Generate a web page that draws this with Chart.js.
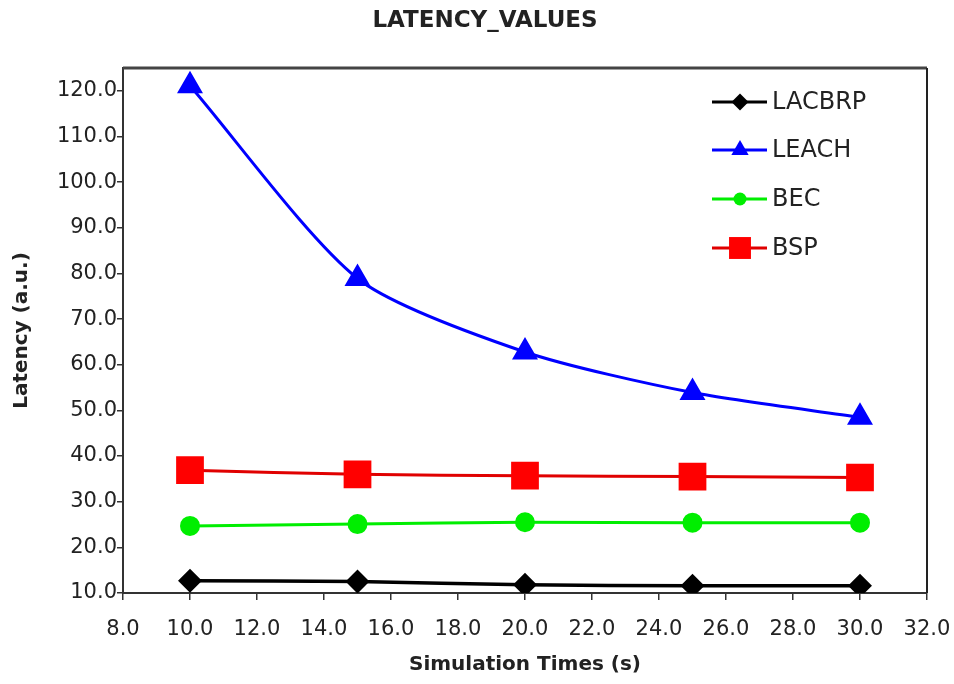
<!DOCTYPE html>
<html>
<head>
<meta charset="utf-8">
<script src="https://cdn.jsdelivr.net/npm/chart.js@4"></script>
<style>
   body { margin: 0; background: #fff; }
   #wrap { width: 954px; height: 684px; }
</style>
</head>
<body>
<div id="wrap"><canvas id="latency-chart"></canvas></div>
<script>
const simTimes = [10, 15, 20, 25, 30];
const seriesNames = ['LACBRP', 'LEACH', 'BEC', 'BSP'];
const lacbrp = [12.7, 12.5, 11.8, 11.6, 11.6];
const leach = [121.1, 78.9, 62.8, 53.9, 48.5];
const bec = [24.7, 25.1, 25.5, 25.4, 25.4];
const bsp = [36.9, 36.0, 35.7, 35.5, 35.3];
const yTicks = [10, 20, 30, 40, 50, 60, 70, 80, 90, 100, 110, 120];
const xTicks = [8, 10, 12, 14, 16, 18, 20, 22, 24, 26, 28, 30, 32];
const chartTitle = 'LATENCY_VALUES';

const FONT = 'DejaVu Sans';
const TEXT = '#222';

function toPoints(values) {
   return values.map((v, i) => ({ x: simTimes[i], y: v }));
}

// simple marker drawing for the legend
function drawMarker(ctx, style, x, y, r) {
   ctx.beginPath();
   if (style === 'circle') {
      ctx.arc(x, y, r, 0, Math.PI * 2);
   } else if (style === 'rect') {
      const s = r * Math.SQRT1_2;
      ctx.rect(x - s, y - s, 2 * s, 2 * s);
   } else if (style === 'rectRot') {
      ctx.moveTo(x, y - r);
      ctx.lineTo(x + r, y);
      ctx.lineTo(x, y + r);
      ctx.lineTo(x - r, y);
      ctx.closePath();
   } else if (style === 'triangle') {
      ctx.moveTo(x, y - r);
      ctx.lineTo(x + r * Math.sqrt(3) / 2, y + r / 2);
      ctx.lineTo(x - r * Math.sqrt(3) / 2, y + r / 2);
      ctx.closePath();
   }
   ctx.fill();
}

const frameAndLegend = {
   id: 'frameAndLegend',
   afterDraw(chart) {
      const { ctx, chartArea: a } = chart;
      ctx.save();
      // title
      ctx.fillStyle = TEXT;
      ctx.font = 'bold 23px "' + FONT + '"';
      ctx.textAlign = 'center';
      ctx.textBaseline = 'middle';
      ctx.fillText(chartTitle, 485, 21);

      // top and right frame
      ctx.strokeStyle = '#444';
      ctx.lineWidth = 3;
      ctx.beginPath();
      ctx.moveTo(a.left, a.top);
      ctx.lineTo(a.right, a.top);
      ctx.stroke();
      ctx.lineWidth = 2;
      ctx.strokeStyle = '#222';
      ctx.beginPath();
      ctx.moveTo(a.right, a.top);
      ctx.lineTo(a.right, a.bottom);
      ctx.stroke();

      // legend inside plot
      const legendR = [8.5, 10, 6.5, 15.5];
      const x0 = 712, x1 = 767, xm = 740, tx = 772;
      const rows = [102, 150, 199, 248];
      ctx.font = '24px "' + FONT + '"';
      ctx.textAlign = 'left';
      chart.data.datasets.forEach((ds, i) => {
         const y = rows[i];
         ctx.strokeStyle = ds.borderColor;
         ctx.lineWidth = 3;
         ctx.beginPath();
         ctx.moveTo(x0, y);
         ctx.lineTo(x1, y);
         ctx.stroke();
         ctx.fillStyle = ds.pointBackgroundColor;
         drawMarker(ctx, ds.pointStyle, xm, y, legendR[i]);
         ctx.fillStyle = TEXT;
         ctx.fillText(ds.label, tx, y + 1);
      });
      ctx.restore();
   }
};

const ctx = document.getElementById('latency-chart');

new Chart(ctx, {
   type: 'line',
   data: {
      datasets: [
         {
            label: seriesNames[0],
            data: toPoints(lacbrp),
            borderColor: '#000',
            pointBackgroundColor: '#000',
            pointBorderColor: '#000',
            pointStyle: 'rectRot',
            pointRadius: 9.5,
            borderWidth: 3.5,
         },
         {
            label: seriesNames[1],
            data: toPoints(leach),
            borderColor: '#0000ff',
            pointBackgroundColor: '#0000ff',
            pointBorderColor: '#0000ff',
            pointStyle: 'triangle',
            pointRadius: 12,
            borderWidth: 3,
         },
         {
            label: seriesNames[2],
            data: toPoints(bec),
            borderColor: '#00ee00',
            pointBackgroundColor: '#00ee00',
            pointBorderColor: '#00ee00',
            pointStyle: 'circle',
            pointRadius: 8.5,
            borderWidth: 3,
         },
         {
            label: seriesNames[3],
            data: toPoints(bsp),
            borderColor: '#e00000',
            pointBackgroundColor: '#ff0000',
            pointBorderColor: '#ff0000',
            pointStyle: 'rect',
            pointRadius: 17.5,
            borderWidth: 3,
         },
      ]
   },
   options: {
      responsive: true,
      maintainAspectRatio: false,
      animation: false,
      layout: { padding: { left: 0, right: 27, top: 68, bottom: 0 } },
      elements: { line: { tension: 0.25 }, point: { borderWidth: 0 } },
      plugins: {
         legend: { display: false },
         tooltip: { enabled: false },
         title: { display: false }
      },
      scales: {
         x: {
            type: 'linear',
            min: 8,
            max: 32,
            afterBuildTicks: (axis) => { axis.ticks = xTicks.map(v => ({ value: v })); },
            afterFit: (axis) => {
               axis.height = 91;
               axis.paddingLeft = 0;
               axis.paddingRight = 0;
            },
            grid: { display: true, drawOnChartArea: false, drawTicks: true, tickLength: 7, color: '#333', lineWidth: 1.5 },
            border: { display: true, color: '#333', width: 2 },
            ticks: {
               color: TEXT,
               font: { family: FONT, size: 21 },
               padding: 17,
               maxRotation: 0,
               autoSkip: false,
               callback: (v) => Number(v).toFixed(1)
            },
            title: {
               display: true,
               text: 'Simulation Times (s)',
               color: TEXT,
               font: { family: FONT, size: 20, weight: 'bold' },
               padding: { top: 0, bottom: 7 }
            }
         },
         y: {
            min: 10,
            max: 125,
            afterBuildTicks: (axis) => { axis.ticks = yTicks.map(v => ({ value: v })); },
            afterFit: (axis) => { axis.width = 123; },
            grid: { display: true, drawOnChartArea: false, drawTicks: true, tickLength: 6, color: '#333', lineWidth: 1.5 },
            border: { display: true, color: '#333', width: 2 },
            ticks: {
               color: TEXT,
               font: { family: FONT, size: 21 },
               padding: 0,
               callback: (v) => Number(v).toFixed(1)
            },
            title: {
               display: true,
               text: 'Latency (a.u.)',
               color: TEXT,
               font: { family: FONT, size: 20, weight: 'bold' },
               padding: { top: 10, bottom: 0 }
            }
         }
      }
   },
   plugins: [frameAndLegend]
});
</script>
</body>
</html>
